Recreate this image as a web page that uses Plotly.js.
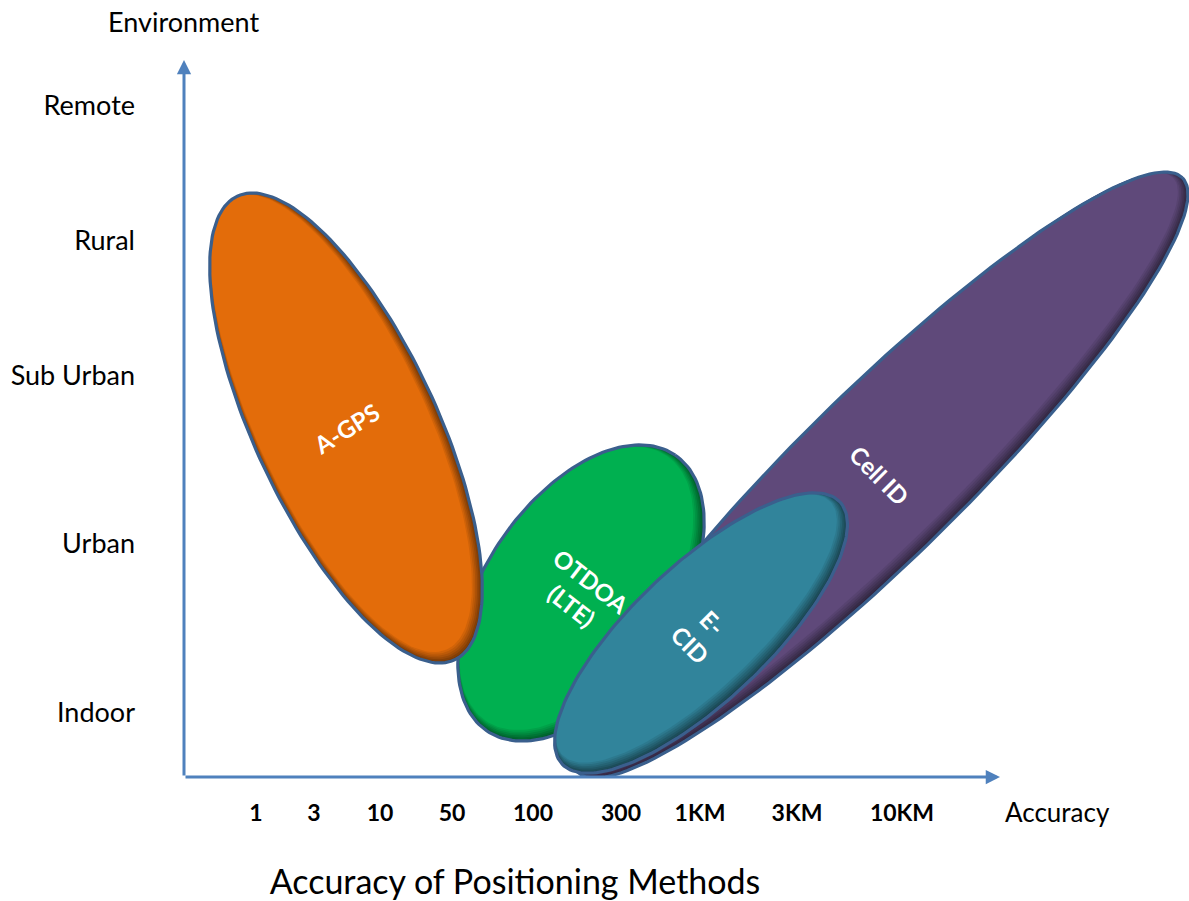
<!DOCTYPE html>
<html>
<head>
<meta charset="utf-8">
<script src="https://cdn.plot.ly/plotly-3.0.1.min.js"></script>
<style>html,body{margin:0;padding:0;background:#fff;}#chart{width:1189px;height:901px;}</style>
</head>
<body>
<div id="chart"></div>
<script>
// ---- data ----
const xTickLabels = ['1', '3', '10', '50', '100', '300', '1KM', '3KM', '10KM'];
const yTickLabels = ['Indoor', 'Urban', 'Sub Urban', 'Rural', 'Remote'];
const methods   = ['Cell ID', 'OTDOA<br>(LTE)', 'A-GPS', 'E-<br>CID'];
const centerX   = [696, 397, 162, 517];
const centerY   = [302, 184, 349, 144];
const semiMajor = [424, 167, 256, 191];
const semiMinor = [83, 96, 91, 68];
const tiltDeg   = [44.5, 55.6, -64.9, 43.4];

// ---- styles / layout positions ----
const fillColors = [[95, 73, 122], [0, 176, 80], [227, 108, 10], [49, 132, 155]];
const labelAngles = [45, 38, -32, 45];
const outline = '#3A5F8D';
const xTickPos = [72, 130, 196, 268, 349, 437, 516, 613, 718];
const yTickPos = [64, 233, 401, 536, 671];
const FONT = 'Lato, "Open Sans", sans-serif';

function ellipse(cx, cy, a, b, deg) {
  const th = deg * Math.PI / 180, xs = [], ys = [];
  for (let i = 0; i <= 180; i++) {
    const t = 2 * Math.PI * i / 180;
    xs.push(cx + a * Math.cos(t) * Math.cos(th) - b * Math.sin(t) * Math.sin(th));
    ys.push(cy + a * Math.cos(t) * Math.sin(th) + b * Math.sin(t) * Math.cos(th));
  }
  return {xs, ys};
}
function mix(c, f) {
  return 'rgb(' + c.map(v => Math.round(v * f)).join(',') + ')';
}

const traces = [];
const N = 7, step = 1.1;
methods.forEach((m, k) => {
  for (let i = 0; i < N; i++) {
    const d = i * step;
    const e = ellipse(centerX[k] - d * 0.7, centerY[k] + d * 0.7,
                      semiMajor[k] - d, semiMinor[k] - d, tiltDeg[k]);
    const f = 0.5 + 0.5 * (i / (N - 1));
    traces.push({x: e.xs, y: e.ys, type: 'scatter', mode: 'lines', fill: 'toself',
      fillcolor: mix(fillColors[k], f), line: {width: 0, color: 'rgba(0,0,0,0)'},
      hoverinfo: 'skip', showlegend: false});
  }
  const o = ellipse(centerX[k], centerY[k], semiMajor[k], semiMinor[k], tiltDeg[k]);
  traces.push({x: o.xs, y: o.ys, type: 'scatter', mode: 'lines',
    line: {width: 3.2, color: outline}, hoverinfo: 'skip', showlegend: false});
});

const annotations = methods.map((m, k) => ({
  x: centerX[k], y: centerY[k], xref: 'x', yref: 'y', text: m, showarrow: false,
  textangle: labelAngles[k], font: {family: FONT, size: 24, color: '#ffffff', weight: 'bold'}
}));
annotations.push(
  {x: 816, y: 0, ax: 0, ay: 0, xref: 'x', yref: 'y', axref: 'x', ayref: 'y', text: '',
   showarrow: true, arrowhead: 2, arrowsize: 0.95, arrowwidth: 3, arrowcolor: '#4F81BD'},
  {x: 0, y: 717, ax: 0, ay: 0, xref: 'x', yref: 'y', axref: 'x', ayref: 'y', text: '',
   showarrow: true, arrowhead: 2, arrowsize: 0.95, arrowwidth: 3, arrowcolor: '#4F81BD'},
  {x: (183 - 184) / 1005, y: (777 - 22) / 777, xref: 'paper', yref: 'paper',
   xanchor: 'center', yanchor: 'middle', text: 'Environment', showarrow: false,
   font: {family: FONT, size: 27, color: '#000'}},
  {x: (1057 - 184) / 1005, y: (777 - 812) / 777, xref: 'paper', yref: 'paper',
   xanchor: 'center', yanchor: 'middle', text: 'Accuracy', showarrow: false,
   font: {family: FONT, size: 26, color: '#000'}}
);

const layout = {
  width: 1189, height: 901,
  margin: {l: 184, r: 0, t: 0, b: 124, pad: 0},
  paper_bgcolor: '#ffffff', plot_bgcolor: '#ffffff',
  showlegend: false,
  title: {text: 'Accuracy of Positioning Methods', x: 515 / 1189, xanchor: 'center',
          xref: 'container', yref: 'container', y: 1 - 882 / 901, yanchor: 'middle',
          font: {family: FONT, size: 34, color: '#000'}},
  xaxis: {range: [0, 1005], showgrid: false, zeroline: false, showline: false,
          tickvals: xTickPos, ticktext: xTickLabels, ticks: '', ticklabelstandoff: 20,
          tickfont: {family: FONT, size: 23, color: '#000', weight: 'bold'}, fixedrange: true},
  yaxis: {range: [0, 777], showgrid: false, zeroline: false, showline: false,
          tickvals: yTickPos, ticktext: yTickLabels, ticks: '', ticklabelstandoff: 48,
          tickfont: {family: FONT, size: 27, color: '#000'}, fixedrange: true},
  annotations: annotations
};

Plotly.newPlot('chart', traces, layout, {displayModeBar: false, staticPlot: true});
</script>
</body>
</html>
